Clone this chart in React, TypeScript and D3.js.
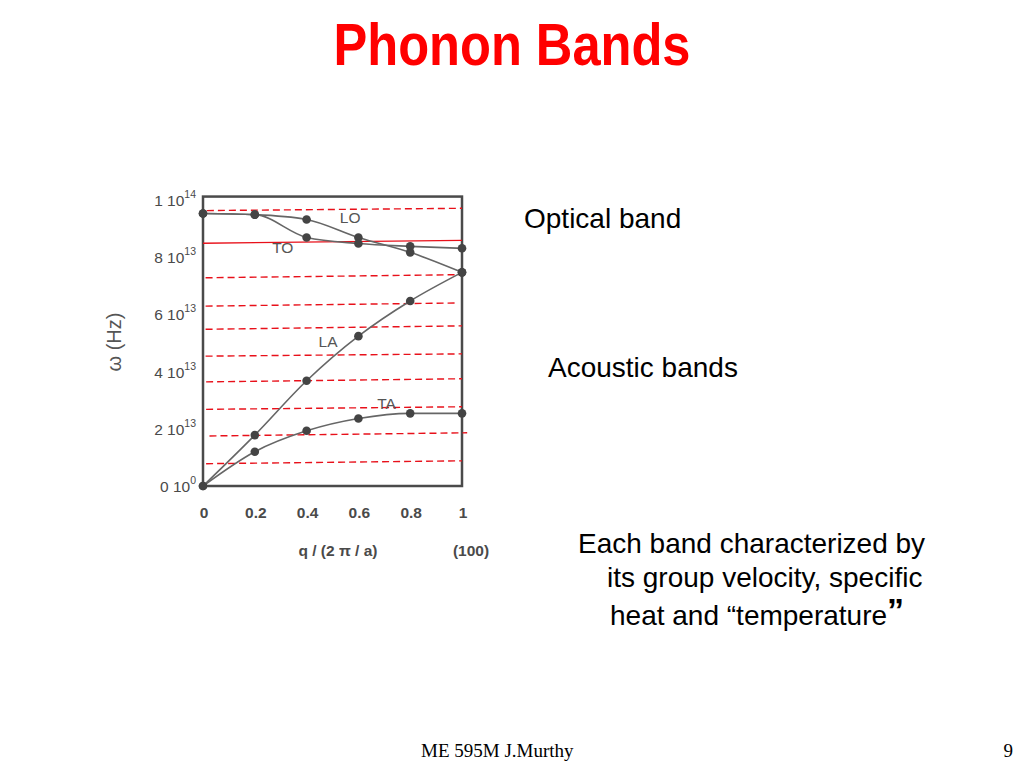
import { curveMonotoneX, line, scaleLinear } from 'd3';

const width = 1024;
const height = 768;

// phonon dispersion along (100), frequencies in units of 1e13 Hz
const qPoints = [0, 0.2, 0.4, 0.6, 0.8, 1];
const loValues = [9.53, 9.49, 9.32, 8.69, 8.17, 7.47];
const toValues = [9.53, 9.49, 8.69, 8.48, 8.38, 8.31];
const laValues = [0, 1.78, 3.68, 5.24, 6.47, 7.47];
const taValues = [0, 1.2, 1.93, 2.36, 2.54, 2.54];

const branchNames = ['LO', 'TO', 'LA', 'TA'];
const branchLabelQ = [0.568, 0.308, 0.483, 0.709];
const branchLabelW = [9.37, 8.32, 5.05, 2.87];

const qTicks = [0, 0.2, 0.4, 0.6, 0.8, 1];
const qTickLabels = ['0', '0.2', '0.4', '0.6', '0.8', '1'];
const wTicks = [0, 2, 4, 6, 8, 10];
const wTickMantissa = ['0', '2', '4', '6', '8', '1'];
const wTickExponent = ['0', '13', '13', '13', '13', '14'];

// red band markers (level at q start / q end)
const dashedStart = [9.63, 7.28, 6.29, 5.48, 4.54, 3.64, 2.68, 1.75, 0.78];
const dashedEnd = [9.71, 7.39, 6.4, 5.6, 4.62, 3.75, 2.77, 1.86, 0.88];
const dashedQStart = [0.015, 0.01, 0.01, 0.01, 0.01, 0.012, 0.012, 0.025, 0.012];
const dashedQEnd = [1, 1, 0.985, 1, 1, 1, 1, 1.02, 1];
const solidLevel = [8.49, 8.59];

const wMax = 10.12;

const App = () => {
	const xScale = scaleLinear().domain([0, 1]).range([203, 462]);
	const yScale = scaleLinear().domain([0, 10]).range([486, 200]);

	const branches = [loValues, toValues, laValues, taValues];
	const pathOf = line<number>()
		.curve(curveMonotoneX)
		.x((_, i) => xScale(qPoints[i]))
		.y(d => yScale(d));

	const axisColor = '#4a4a4a';
	const sans = 'Liberation Sans, Arial, sans-serif';

	return (
		<svg
			width={width}
			height={height}
			style={{ position: 'absolute', left: 0, top: 0, background: '#fff' }}
		>
			<text
				x={512}
				y={65}
				textAnchor="middle"
				fill="#ff0000"
				fontFamily="Liberation Sans Narrow, Arial Narrow, Liberation Sans, sans-serif"
				fontWeight="bold"
				fontSize={60}
				textLength={357}
				lengthAdjust="spacingAndGlyphs"
			>
				Phonon Bands
			</text>

			{/* plot frame */}
			<rect
				x={xScale(0)}
				y={yScale(wMax)}
				width={xScale(1) - xScale(0)}
				height={yScale(0) - yScale(wMax)}
				fill="none"
				stroke={axisColor}
				strokeWidth={2.5}
			/>

			{/* red band markers */}
			{dashedStart.map((d, i) => (
				<line
					key={`dash-${i}`}
					x1={xScale(dashedQStart[i])}
					x2={xScale(dashedQEnd[i])}
					y1={yScale(d)}
					y2={yScale(dashedEnd[i])}
					stroke="#e8101a"
					strokeWidth={1.4}
					strokeDasharray="7,4"
				/>
			))}
			<line
				x1={xScale(0)}
				x2={xScale(1)}
				y1={yScale(solidLevel[0])}
				y2={yScale(solidLevel[1])}
				stroke="#e8101a"
				strokeWidth={1.4}
			/>

			{/* branches */}
			{branches.map((b, i) => (
				<path
					key={`branch-${i}`}
					d={pathOf(b) || ''}
					fill="none"
					stroke="#666"
					strokeWidth={1.6}
				/>
			))}
			{branches.map((b, i) =>
				b.map((d, j) => (
					<circle
						key={`pt-${i}-${j}`}
						cx={xScale(qPoints[j])}
						cy={yScale(d)}
						r={4.3}
						fill="#444"
					/>
				))
			)}
			{branchNames.map((n, i) => (
				<text
					key={n}
					x={xScale(branchLabelQ[i])}
					y={yScale(branchLabelW[i])}
					dy=".35em"
					textAnchor="middle"
					fill="#555"
					fontFamily={sans}
					fontSize={15.5}
				>
					{n}
				</text>
			))}

			{/* axes labels */}
			{qTicks.map((t, i) => (
				<text
					key={`q-${t}`}
					x={xScale(t) + 1}
					y={518}
					textAnchor="middle"
					fill={axisColor}
					fontFamily={sans}
					fontSize={15.5}
					fontWeight="bold"
				>
					{qTickLabels[i]}
				</text>
			))}
			{wTicks.map((t, i) => (
				<text
					key={`w-${t}`}
					x={196}
					y={yScale(t) + 6}
					textAnchor="end"
					fill={axisColor}
					fontFamily={sans}
					fontSize={15.5}
				>
					{wTickMantissa[i]} 10
					<tspan dy={-8} fontSize={10.5}>
						{wTickExponent[i]}
					</tspan>
				</text>
			))}
			<text
				x={338}
				y={556}
				textAnchor="middle"
				fill={axisColor}
				fontFamily={sans}
				fontSize={15.5}
				fontWeight="bold"
			>
				q / (2 π / a)
			</text>
			<text
				x={471}
				y={556}
				textAnchor="middle"
				fill={axisColor}
				fontFamily={sans}
				fontSize={15.5}
				fontWeight="bold"
			>
				(100)
			</text>
			<text
				transform="translate(121,342) rotate(-90)"
				textAnchor="middle"
				fill="#555"
				fontFamily={sans}
				fontSize={20}
			>
				ω  (Hz)
			</text>

			{/* side notes */}
			<g fontFamily={sans} fontSize={28} fill="#000">
				<text x={524} y={228}>
					Optical band
				</text>
				<text x={548} y={377}>
					Acoustic bands
				</text>
				<text x={578} y={553}>
					Each band characterized by
				</text>
				<text x={607} y={587}>
					its group velocity, specific
				</text>
				<text x={610} y={625}>
					heat and “temperature
					<tspan fontWeight="bold" fontSize={34} dy={-3}>
						”
					</tspan>
				</text>
			</g>

			<text
				x={421}
				y={757}
				fontFamily="Liberation Serif, Times New Roman, serif"
				fontSize={19}
				fill="#000"
			>
				ME 595M J.Murthy
			</text>
			<text
				x={1013}
				y={757}
				textAnchor="end"
				fontFamily="Liberation Serif, Times New Roman, serif"
				fontSize={19}
				fill="#000"
			>
				9
			</text>
		</svg>
	);
};

export default App;
